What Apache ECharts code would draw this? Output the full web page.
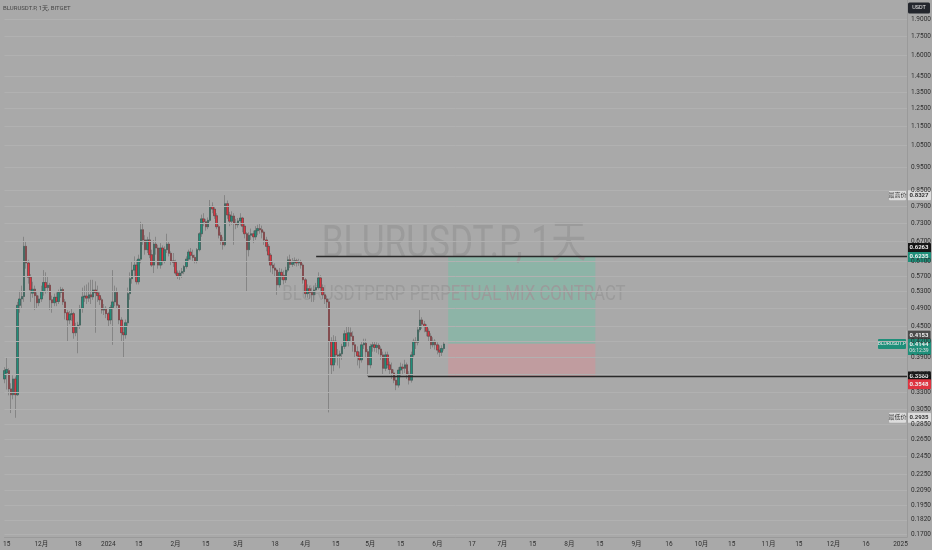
<!DOCTYPE html>
<html><head><meta charset="utf-8">
<script src="https://cdn.jsdelivr.net/npm/echarts@6/dist/echarts.min.js"></script>
<style>html,body{margin:0;padding:0;background:#a9a9a9;}#c{width:932px;height:550px;}</style>
</head><body><div id="c"></div>
<script>
// ---------- data ----------
const symbolTitle = 'BLURUSDT.P, 1天, BITGET';
const watermark1 = 'BLURUSDT.P, 1天';
const watermark2 = 'BLURUSDTPERP PERPETUAL MIX CONTRACT';
const firstDay = '2023-11-14';
const lastDay = '2025-01-04';
// daily candles from 2023-11-14: [open, close, low, high]
const ohlc = [
[0.352,0.366,0.345,0.372],[0.362,0.368,0.335,0.389],[0.366,0.336,0.326,0.370],[0.336,0.327,0.300,0.345],
[0.327,0.352,0.320,0.358],[0.352,0.327,0.2935,0.356],[0.327,0.497,0.325,0.505],[0.497,0.512,0.480,0.532],
[0.512,0.518,0.490,0.545],[0.518,0.655,0.505,0.685],[0.655,0.606,0.590,0.670],[0.606,0.567,0.550,0.615],
[0.567,0.534,0.505,0.575],[0.526,0.536,0.515,0.555],[0.536,0.520,0.486,0.545],[0.520,0.503,0.490,0.528],
[0.503,0.512,0.495,0.520],[0.512,0.530,0.505,0.545],[0.530,0.553,0.520,0.586],[0.553,0.540,0.525,0.580],
[0.540,0.546,0.528,0.570],[0.546,0.510,0.486,0.552],[0.510,0.503,0.480,0.520],[0.503,0.516,0.495,0.525],
[0.516,0.506,0.495,0.528],[0.506,0.528,0.500,0.535],[0.528,0.535,0.515,0.542],[0.535,0.505,0.498,0.540],
[0.505,0.480,0.465,0.512],[0.480,0.464,0.420,0.486],[0.464,0.476,0.455,0.484],[0.476,0.478,0.462,0.490],
[0.478,0.437,0.425,0.482],[0.437,0.450,0.430,0.458],[0.450,0.453,0.397,0.460],[0.453,0.490,0.445,0.498],
[0.490,0.517,0.480,0.540],[0.517,0.519,0.505,0.545],[0.519,0.514,0.500,0.548],[0.514,0.522,0.505,0.553],
[0.522,0.517,0.500,0.560],[0.517,0.534,0.510,0.560],[0.534,0.527,0.437,0.556],[0.527,0.520,0.505,0.545],
[0.520,0.510,0.498,0.528],[0.510,0.486,0.478,0.515],[0.486,0.490,0.475,0.500],[0.490,0.478,0.468,0.495],
[0.478,0.464,0.450,0.482],[0.464,0.492,0.455,0.498],[0.492,0.505,0.413,0.586],[0.505,0.528,0.495,0.545],
[0.528,0.497,0.490,0.540],[0.497,0.464,0.455,0.500],[0.464,0.437,0.420,0.470],[0.437,0.433,0.389,0.450],
[0.433,0.458,0.425,0.465],[0.458,0.525,0.450,0.540],[0.525,0.563,0.510,0.580],[0.563,0.586,0.550,0.610],
[0.586,0.600,0.570,0.625],[0.600,0.555,0.548,0.615],[0.555,0.617,0.548,0.630],[0.617,0.708,0.605,0.735],
[0.708,0.675,0.660,0.730],[0.675,0.645,0.630,0.690],[0.645,0.675,0.635,0.685],[0.675,0.630,0.620,0.700],
[0.630,0.600,0.595,0.645],[0.600,0.662,0.578,0.675],[0.662,0.650,0.630,0.685],[0.650,0.600,0.590,0.660],
[0.600,0.650,0.590,0.665],[0.650,0.612,0.600,0.658],[0.612,0.645,0.605,0.655],[0.645,0.662,0.635,0.695],
[0.662,0.634,0.625,0.670],[0.634,0.612,0.600,0.640],[0.612,0.608,0.595,0.635],[0.608,0.578,0.572,0.615],
[0.578,0.570,0.562,0.585],[0.570,0.578,0.560,0.585],[0.578,0.582,0.565,0.592],[0.582,0.596,0.575,0.600],
[0.596,0.617,0.590,0.625],[0.617,0.638,0.610,0.645],[0.638,0.628,0.615,0.650],[0.628,0.622,0.610,0.645],
[0.622,0.612,0.605,0.630],[0.612,0.645,0.605,0.650],[0.645,0.695,0.640,0.700],[0.695,0.745,0.685,0.760],
[0.745,0.735,0.720,0.765],[0.735,0.718,0.705,0.745],[0.718,0.740,0.710,0.750],[0.740,0.790,0.735,0.814],
[0.790,0.780,0.765,0.805],[0.780,0.756,0.745,0.790],[0.756,0.718,0.710,0.765],[0.718,0.690,0.680,0.725],
[0.690,0.672,0.660,0.700],[0.672,0.660,0.645,0.685],[0.660,0.800,0.655,0.8327],[0.800,0.759,0.745,0.812],
[0.759,0.737,0.720,0.770],[0.737,0.755,0.725,0.772],[0.755,0.730,0.660,0.765],[0.730,0.725,0.710,0.745],
[0.725,0.738,0.715,0.748],[0.738,0.748,0.722,0.765],[0.748,0.720,0.700,0.752],[0.720,0.695,0.680,0.730],
[0.695,0.645,0.530,0.700],[0.645,0.690,0.625,0.700],[0.690,0.695,0.675,0.712],[0.695,0.685,0.665,0.705],
[0.685,0.705,0.675,0.720],[0.705,0.712,0.690,0.725],[0.712,0.708,0.695,0.728],[0.708,0.700,0.680,0.722],
[0.700,0.675,0.660,0.705],[0.675,0.655,0.640,0.685],[0.655,0.629,0.610,0.662],[0.629,0.600,0.580,0.635],
[0.600,0.592,0.575,0.610],[0.592,0.586,0.570,0.605],[0.586,0.547,0.522,0.590],[0.547,0.580,0.540,0.592],
[0.580,0.572,0.560,0.590],[0.572,0.560,0.548,0.585],[0.560,0.586,0.552,0.595],[0.586,0.615,0.580,0.625],
[0.615,0.602,0.592,0.630],[0.602,0.607,0.595,0.620],[0.607,0.612,0.598,0.622],[0.612,0.606,0.596,0.618],
[0.606,0.610,0.598,0.618],[0.610,0.600,0.590,0.615],[0.600,0.560,0.550,0.605],[0.560,0.525,0.515,0.565],
[0.525,0.537,0.515,0.548],[0.537,0.528,0.512,0.545],[0.528,0.522,0.505,0.540],[0.522,0.534,0.505,0.545],
[0.534,0.540,0.522,0.552],[0.540,0.565,0.535,0.580],[0.565,0.540,0.530,0.572],[0.540,0.522,0.512,0.548],
[0.522,0.512,0.500,0.530],[0.512,0.505,0.490,0.520],[0.505,0.420,0.301,0.512],[0.420,0.376,0.360,0.428],
[0.376,0.420,0.365,0.432],[0.420,0.394,0.380,0.430],[0.394,0.392,0.375,0.405],[0.392,0.396,0.370,0.402],
[0.396,0.410,0.385,0.415],[0.410,0.435,0.405,0.442],[0.435,0.420,0.410,0.450],[0.420,0.437,0.410,0.450],
[0.437,0.430,0.420,0.448],[0.430,0.413,0.400,0.440],[0.413,0.400,0.390,0.420],[0.400,0.392,0.375,0.410],
[0.392,0.385,0.370,0.400],[0.385,0.413,0.380,0.420],[0.413,0.416,0.405,0.425],[0.416,0.400,0.390,0.425],
[0.400,0.376,0.356,0.405],[0.376,0.410,0.370,0.415],[0.410,0.413,0.400,0.420],[0.413,0.408,0.400,0.420],
[0.408,0.412,0.398,0.418],[0.412,0.405,0.395,0.416],[0.405,0.394,0.385,0.410],[0.394,0.370,0.360,0.400],
[0.370,0.394,0.365,0.400],[0.394,0.376,0.370,0.400],[0.376,0.368,0.360,0.382],[0.368,0.362,0.352,0.380],
[0.362,0.350,0.345,0.368],[0.350,0.342,0.334,0.356],[0.342,0.367,0.338,0.372],[0.367,0.372,0.355,0.380],
[0.372,0.370,0.360,0.378],[0.370,0.376,0.362,0.385],[0.376,0.360,0.352,0.380],[0.360,0.350,0.343,0.365],
[0.350,0.394,0.346,0.400],[0.394,0.420,0.388,0.425],[0.420,0.418,0.405,0.428],[0.418,0.443,0.412,0.450],
[0.443,0.464,0.438,0.486],[0.464,0.455,0.445,0.470],[0.455,0.450,0.438,0.462],[0.450,0.440,0.430,0.455],
[0.440,0.430,0.420,0.446],[0.430,0.413,0.405,0.436],[0.413,0.420,0.408,0.428],[0.420,0.413,0.404,0.424],
[0.413,0.403,0.395,0.418],[0.403,0.399,0.390,0.412],[0.399,0.406,0.392,0.412],[0.406,0.4144,0.402,0.418]
];
const priceTicks = [1.9,1.75,1.6,1.45,1.35,1.25,1.15,1.05,0.95,0.85,0.79,0.73,0.67,0.61,0.57,0.53,0.49,0.45,0.42,0.39,0.36,0.33,0.305,0.285,0.265,0.245,0.225,0.209,0.195,0.182,0.17];
const timeTicks = [
['2023-11-15','15'],['2023-12-01','12月'],['2023-12-18','18'],['2024-01-01','2024'],['2024-01-15','15'],
['2024-02-01','2月'],['2024-02-15','15'],['2024-03-01','3月'],['2024-03-18','18'],['2024-04-01','4月'],
['2024-04-15','15'],['2024-05-01','5月'],['2024-05-15','15'],['2024-06-01','6月'],['2024-06-17','17'],
['2024-07-01','7月'],['2024-07-15','15'],['2024-08-01','8月'],['2024-08-15','15'],['2024-09-01','9月'],
['2024-09-16','16'],['2024-10-01','10月'],['2024-10-15','15'],['2024-11-01','11月'],['2024-11-15','15'],
['2024-12-01','12月'],['2024-12-16','16'],['2025-01-01','2025']];
const resistance = {from:'2024-04-06', price:0.6263};
const support = {from:'2024-04-30', price:0.3560};
const position = {from:'2024-06-06', to:'2024-08-13', target:0.6235, entry:0.4153, stop:0.3548};
const lastPrice = 0.4144, countdown = '06:12:39';
const highest = 0.8327, lowest = 0.2935;
const yMin = 0.1679, yMax = 2.0769;

// ---------- build ----------
const dates = [];
for (let t = Date.parse(firstDay+'T00:00:00Z'); t <= Date.parse(lastDay+'T00:00:00Z'); t += 86400000)
  dates.push(new Date(t).toISOString().slice(0,10));
const tickMap = new Map(timeTicks);
const bodies = ohlc.map(r => [r[0], r[1], Math.min(r[0], r[1]), Math.max(r[0], r[1])]);

const FONT = 'Roboto, "Noto Sans CJK SC", sans-serif';
const UP = '#1f8f7a', DOWN = '#de3440', WICK = '#858585', GRID = '#b1b1b1';

const chart = echarts.init(document.getElementById('c'), null, {renderer:'canvas'});
const option = {
  backgroundColor: '#a9a9a9',
  animation: false,
  grid: {left: 0, right: 25, top: 0, bottom: 13, containLabel: false},
  xAxis: {
    type: 'category', data: dates, boundaryGap: false,
    axisLine: {show: true, lineStyle: {color: '#9a9a9a', width: 1}},
    axisTick: {show: false},
    splitLine: {show: false},
    axisLabel: {
      interval: (i, v) => tickMap.has(v),
      formatter: v => tickMap.get(v) || '',
      fontSize: 6.5, color: '#2e2e2e', fontFamily: FONT, margin: 4
    }
  },
  yAxis: {
    type: 'log', logBase: 10, min: yMin, max: yMax, position: 'right',
    axisLine: {show: true, lineStyle: {color: '#9a9a9a'}},
    axisTick: {show: false}, splitLine: {show: false}, axisLabel: {show: false}
  },
  series: [
    {
      type: 'line', data: [], silent: true, z: 1, clip: false,
      markLine: {
        silent: true, symbol: 'none', animation: false, precision: 6,
        lineStyle: {color: GRID, width: 1, type: 'solid'},
        label: {show: true, position: 'end', distance: 4, formatter: p => p.name,
                fontSize: 6.5, color: '#2e2e2e', fontFamily: FONT},
        emphasis: {disabled: true},
        data: priceTicks.map(v => ({yAxis: v, name: v.toFixed(4)}))
      }
    },
    {
      type: 'candlestick', data: ohlc, z: 3, clip: true, barWidth: 2, silent: true,
      itemStyle: {color: WICK, color0: WICK, borderColor: WICK, borderColor0: WICK, borderWidth: 1}
    },
    {
      type: 'candlestick', data: bodies, z: 4, clip: true, barWidth: 2, silent: true,
      itemStyle: {color: UP, color0: DOWN, borderColor: '#3f4d4a', borderColor0: '#553e3f', borderWidth: 0.5},
      markArea: {
        silent: true, precision: 6,
        data: [
          [{xAxis: position.from, yAxis: position.target, itemStyle: {color: '#8db4a7'}}, {xAxis: position.to, yAxis: position.entry}],
          [{xAxis: position.from, yAxis: position.entry, itemStyle: {color: '#c09c9f'}}, {xAxis: position.to, yAxis: position.stop}]
        ]
      },
      markLine: {
        silent: true, symbol: 'none', label: {show: false}, precision: 6,
        lineStyle: {color: '#2a2a2a', width: 1.3, type: 'solid'},
        emphasis: {disabled: true},
        data: [
          [{coord: [resistance.from, resistance.price]}, {coord: [lastDay, resistance.price]}],
          [{coord: [support.from, support.price]}, {coord: [lastDay, support.price]}]
        ]
      }
    }
  ]
};
chart.setOption(option);

// ---------- overlays: watermark, title, price-scale tags ----------
const X0 = 907, W = 24;
const py = v => chart.convertToPixel({yAxisIndex: 0}, v);
function tag(cy, text, bg, fg, opt) {
  opt = opt || {};
  const h = opt.h || 10;
  const kids = [
    {type:'rect', shape:{x:0, y:-h/2, width:W, height:h, r:1}, style:{fill:bg, stroke:opt.stroke||null, lineWidth:0.6}},
    {type:'text', style:{x:W/2, y:0, text:text, fill:fg, font:'bold 6px '+FONT, align:'center', verticalAlign:'middle'}}
  ];
  return {type:'group', x:X0, y:cy, z:100, children:kids};
}
function sideTag(cy, text, bg, fg, w, fs) {
  return {type:'group', x:X0 - w - 1, y:cy, z:100, children:[
    {type:'rect', shape:{x:0, y:-5, width:w, height:10, r:1}, style:{fill:bg}},
    {type:'text', style:{x:w/2, y:0, text:text, fill:fg, font:(fs||6)+'px '+FONT, align:'center', verticalAlign:'middle'}}
  ]};
}
const yLast = py(lastPrice);
const graphics = [
  {type:'text', x:3, y:8, z:50, style:{text:symbolTitle, fill:'#454545', font:'6px '+FONT, align:'left', verticalAlign:'middle'}},
  {type:'text', x:454, y:246, z:2, scaleX:0.8, style:{text:watermark1, fill:'#9b9b9b', font:'44px '+FONT, align:'center', verticalAlign:'middle'}},
  {type:'text', x:454, y:295, z:2, scaleX:0.8, style:{text:watermark2, fill:'#9b9b9b', font:'21px '+FONT, align:'center', verticalAlign:'middle'}},
  {type:'group', x:X0+1, y:8, z:100, children:[
    {type:'rect', shape:{x:0, y:-5.5, width:W-2, height:11, r:1.5}, style:{fill:'#23262d'}},
    {type:'text', style:{x:(W-2)/2, y:0, text:'USDT', fill:'#e8e8e8', font:'5.5px '+FONT, align:'center', verticalAlign:'middle'}}
  ]},
  sideTag(py(highest), '最高价', '#dcdcdc', '#333', 17),
  tag(py(highest), highest.toFixed(4), '#dcdcdc', '#333'),
  tag(py(resistance.price) - 8, resistance.price.toFixed(4), '#151515', '#f0f0f0'),
  tag(py(position.target), position.target.toFixed(4), UP, '#f0f0f0'),
  tag(py(position.entry) - 8.5, position.entry.toFixed(4), '#4b4b4b', '#f0f0f0', {stroke:'#d0d0d0'}),
  sideTag(yLast, 'BLURUSDT.P', UP, '#f0f0f0', 28, 5),
  {type:'group', x:X0, y:yLast, z:101, children:[
    {type:'rect', shape:{x:0, y:-5, width:W, height:16, r:1}, style:{fill:UP}},
    {type:'text', style:{x:W/2, y:0, text:lastPrice.toFixed(4), fill:'#f0f0f0', font:'bold 6px '+FONT, align:'center', verticalAlign:'middle'}},
    {type:'text', style:{x:W/2, y:6.5, text:countdown, fill:'#e0e0e0', font:'5px '+FONT, align:'center', verticalAlign:'middle'}}
  ]},
  tag(py(support.price), support.price.toFixed(4), '#151515', '#f0f0f0'),
  tag(py(position.stop) + 7, position.stop.toFixed(4), DOWN, '#f0f0f0'),
  sideTag(py(lowest), '最低价', '#dcdcdc', '#333', 17),
  tag(py(lowest), lowest.toFixed(4), '#dcdcdc', '#333')
];
chart.setOption({graphic: graphics});
</script>
</body></html>
